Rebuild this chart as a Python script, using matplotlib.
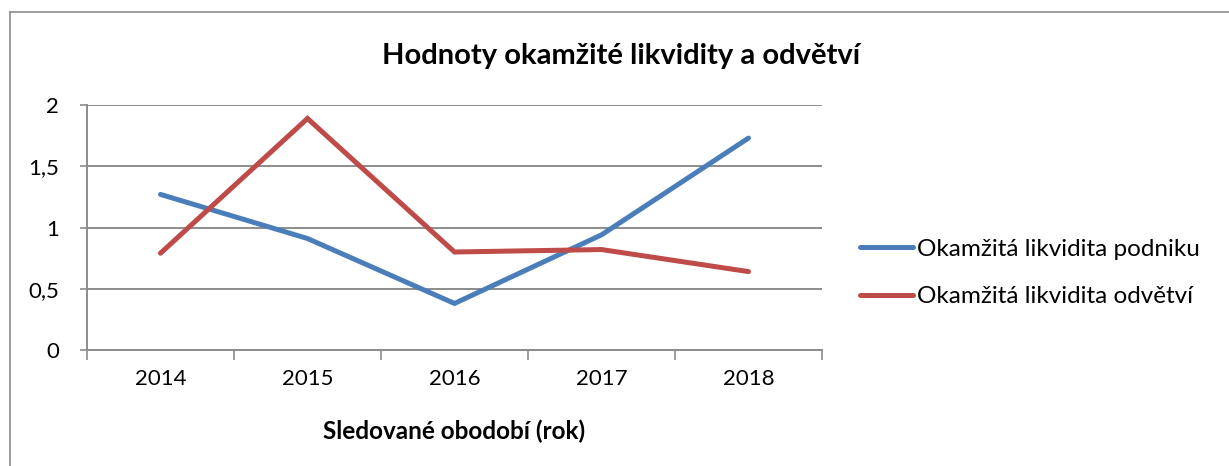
import matplotlib
matplotlib.use("Agg")
import matplotlib.pyplot as plt
from matplotlib.lines import Line2D

years = ["2014", "2015", "2016", "2017", "2018"]
podnik = [1.27, 0.91, 0.38, 0.94, 1.73]
odvetvi = [0.79, 1.89, 0.80, 0.82, 0.64]
series_names = ["Okamžitá likvidita podniku", "Okamžitá likvidita odvětví"]
y_ticks = [0, 0.5, 1, 1.5, 2]
y_labels = ["0", "0,5", "1", "1,5", "2"]

plt.rcParams['font.family'] = ['Lato', 'DejaVu Sans']

W, H = 1229, 466
fig = plt.figure(figsize=(W / 100, H / 100), dpi=100)

# outer chart frame (top and left edges visible)
fig.add_artist(Line2D([10 / W, 1.0], [1 - 12 / H, 1 - 12 / H], transform=fig.transFigure,
                      color="#8c8c8c", linewidth=1.2))
fig.add_artist(Line2D([10 / W, 10 / W], [0.0, 1 - 12 / H], transform=fig.transFigure,
                      color="#8c8c8c", linewidth=1.2))

ax = fig.add_axes([87 / W, 1 - 350 / H, (822 - 87) / W, (350 - 105) / H])
x = list(range(len(years)))
blue = "#4A7EBB"
red = "#BE4B48"
lw = 3.6
ax.plot(x, podnik, color=blue, linewidth=lw, solid_capstyle="round",
        solid_joinstyle="miter", zorder=3)
ax.plot(x, odvetvi, color=red, linewidth=lw, solid_capstyle="round",
        solid_joinstyle="miter", zorder=3)

ax.set_xlim(-0.5, len(years) - 0.5)
ax.set_ylim(0, 2)
ax.set_yticks(y_ticks)
ax.set_yticklabels(y_labels, fontsize=16)
ax.set_xticks([i - 0.5 for i in range(len(years) + 1)])
ax.set_xticklabels([])
ax.set_xticks(x, minor=True)
ax.set_xticklabels(years, minor=True, fontsize=16)
ax.tick_params(axis="x", which="minor", length=0, pad=14)
ax.tick_params(axis="x", which="major", length=7, width=1.2, color="#8c8c8c", direction="out")
ax.tick_params(axis="y", length=5, width=1.2, color="#8c8c8c", direction="out", pad=15)

ax.grid(axis="y", color="#8c8c8c", linewidth=1.4, zorder=0)
for s in ["top", "right"]:
    ax.spines[s].set_visible(False)
for s in ["left", "bottom"]:
    ax.spines[s].set_color("#8c8c8c")
    ax.spines[s].set_linewidth(1.4)

ax.set_xlabel("Sledované obodobí (rok)", fontsize=17.5, fontweight="bold", labelpad=22)
fig.text(621 / W, 1 - 56 / H, "Hodnoty okamžité likvidity a odvětví",
         ha="center", va="center", fontsize=21, fontweight="bold")

handles = [Line2D([0], [0], color=blue, linewidth=lw, solid_capstyle="round"),
           Line2D([0], [0], color=red, linewidth=lw, solid_capstyle="round")]
fig.legend(handles, series_names, loc="center left",
           bbox_to_anchor=(860 / W, 1 - 273 / H), frameon=False,
           fontsize=17.5, handlelength=2.2, handletextpad=0.15, labelspacing=1.1,
           borderpad=0.0, borderaxespad=0.0)

fig.savefig("out.png", dpi=100)
